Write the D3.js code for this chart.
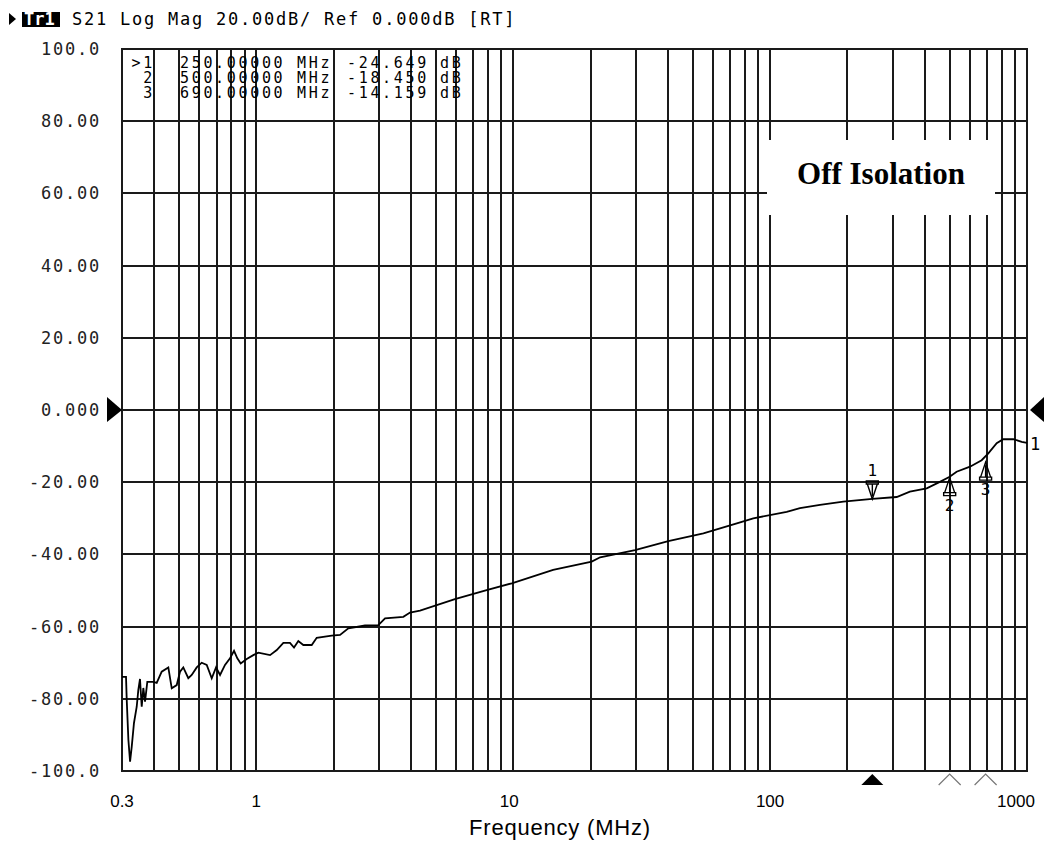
<!DOCTYPE html>
<html>
<head>
<meta charset="utf-8">
<script src="https://cdn.jsdelivr.net/npm/d3@7"></script>
<style>
  body { margin: 0; background: #fff; }
  svg { display: block; }
  .mono { font-family: "DejaVu Sans Mono", monospace; white-space: pre; }
</style>
</head>
<body>
<div id="chart"></div>
<script>
// trace: frequency (MHz) and S21 (dB)
const freqMHz = [0.300, 0.311, 0.313, 0.3177, 0.3225, 0.3273, 0.334, 0.3423, 0.3472, 0.3525,
  0.358, 0.3632, 0.3688, 0.3764, 0.3972, 0.4095, 0.4282, 0.4544, 0.4685, 0.4899,
  0.5047, 0.5197, 0.5435, 0.5604, 0.5861, 0.613, 0.6411, 0.6705, 0.6969, 0.7224,
  0.7553, 0.79, 0.8189, 0.8434, 0.8694, 0.9176, 0.9734, 1.018, 1.131, 1.201,
  1.274, 1.352, 1.402, 1.457, 1.524, 1.643, 1.718, 1.966, 2.118, 2.281,
  2.649, 2.985, 3.17, 3.735, 3.965, 4.337, 5.93, 7.88, 9.87, 14.3,
  20.21, 21.8, 29.79, 40.15, 55.0, 74.2, 86.0, 116, 130.7, 156.4,
  192.7, 250, 311, 350, 407, 458, 500, 532, 600, 666,
  707, 762, 808, 885, 954, 1000];
const s21dB = [-73.9, -73.9, -80.3, -91.4, -97.4, -93.3, -86.7, -82.2, -77.6, -74.5,
  -82.2, -77.0, -80.8, -75.3, -75.3, -75.6, -72.5, -71.3, -77.1, -76.2,
  -72.5, -71.3, -74.3, -73.4, -71.3, -70.0, -70.6, -74.3, -71.3, -73.4,
  -70.6, -68.8, -66.7, -68.8, -70.2, -69.0, -67.9, -67.2, -67.9, -66.5,
  -64.5, -64.5, -65.8, -64.0, -65.1, -65.1, -63.1, -62.5, -62.3, -60.5,
  -59.7, -59.6, -57.7, -57.3, -56.1, -55.6, -52.4, -49.9, -48.0, -44.3,
  -42.0, -40.8, -38.8, -36.3, -34.2, -31.4, -30.0, -28.2, -27.2, -26.3,
  -25.4, -24.6, -24.1, -22.6, -21.7, -19.9, -18.5, -17.1, -15.7, -13.9,
  -12.0, -9.2, -8.1, -8.1, -8.8, -9.1];

// markers
const markerNames = ["1", "2", "3"];
const markerFreq = [250, 500, 690];
const markerDB = [-24.649, -18.450, -14.159];
const markerFreqText = ["250.00000", "500.00000", "690.00000"];
const markerDBText = ["-24.649", "-18.450", "-14.159"];

// axes
const yTicks = [100, 80, 60, 40, 20, 0, -20, -40, -60, -80, -100];
const yTickLabels = ["100.0", "80.00", "60.00", "40.00", "20.00", "0.000",
  "-20.00", "-40.00", "-60.00", "-80.00", "-100.0"];
const xTickVals = [0.3, 1, 10, 100, 1000];
const xTickLabels = ["0.3", "1", "10", "100", "1000"];

const headerText = "S21 Log Mag 20.00dB/ Ref 0.000dB [RT]";
const titleText = "Off Isolation";
const xTitle = "Frequency (MHz)";

const width = 1050, height = 841;

const svg = d3.select("#chart").append("svg")
  .attr("width", width)
  .attr("height", height);

const x = d3.scaleLog().domain([0.3, 1000]).range([122, 1027]);
const y = d3.scaleLinear().domain([-100, 100]).range([771, 49]);

const x0 = x.range()[0], x1 = x.range()[1];
const yTop = y(100), yBot = y(-100);

// vertical grid, 1..9 per decade
const grid = svg.append("g")
  .attr("stroke", "#1a1a1a")
  .attr("stroke-width", 2)
  .attr("shape-rendering", "crispEdges");
grid.selectAll("line.v")
  .data(x.ticks().filter(d => d > 0.3 && d < 1000))
  .join("line")
    .attr("class", "v")
    .attr("x1", d => Math.round(x(d))).attr("x2", d => Math.round(x(d)))
    .attr("y1", yTop).attr("y2", yBot);
grid.selectAll("line.h")
  .data(yTicks.filter(d => d > -100 && d < 100))
  .join("line")
    .attr("class", "h")
    .attr("x1", x0).attr("x2", x1)
    .attr("y1", d => Math.round(y(d))).attr("y2", d => Math.round(y(d)));

// frame
svg.append("rect")
  .attr("x", x0).attr("y", yTop)
  .attr("width", x1 - x0).attr("height", yBot - yTop)
  .attr("fill", "none")
  .attr("stroke", "#1a1a1a")
  .attr("stroke-width", 2)
  .attr("shape-rendering", "crispEdges");

// label box
svg.append("rect")
  .attr("x", 767).attr("y", 140)
  .attr("width", 228).attr("height", 75)
  .attr("fill", "#fff");
svg.append("text")
  .attr("x", 881).attr("y", 184)
  .attr("text-anchor", "middle")
  .style("font-family", "'Liberation Serif', 'Times New Roman', serif")
  .style("font-weight", "bold")
  .style("font-size", "31px")
  .text(titleText);

// header
svg.append("path").attr("d", "M9,13 L16,19 L9,25 Z").attr("fill", "#000");
svg.append("rect").attr("x", 22).attr("y", 12).attr("width", 38).attr("height", 15).attr("fill", "#000");
svg.append("text").attr("class", "mono")
  .attr("x", 24).attr("y", 25)
  .attr("fill", "#fff")
  .style("font-size", "17px").style("font-weight", "bold")
  .text("Tr1");
svg.append("text").attr("class", "mono")
  .attr("x", 72).attr("y", 25)
  .style("font-size", "17px").style("letter-spacing", "1.77px")
  .text(headerText);

// y labels
svg.append("g").selectAll("text")
  .data(yTicks)
  .join("text")
    .attr("class", "mono")
    .attr("x", 101)
    .attr("y", d => y(d) + 6)
    .attr("text-anchor", "end")
    .attr("fill", "#222")
    .style("font-size", "17px").style("letter-spacing", "1.77px")
    .text((d, i) => yTickLabels[i]);

// reference level arrows
svg.append("path")
  .attr("d", `M${x0 - 15},${y(0) - 13} L${x0},${y(0)} L${x0 - 15},${y(0) + 12} Z`)
  .attr("fill", "#000");
svg.append("path")
  .attr("d", `M${x1 + 17},${y(0) - 13} L${x1 + 3},${y(0)} L${x1 + 17},${y(0) + 12} Z`)
  .attr("fill", "#000");

// marker table
const table = svg.append("g")
  .style("font-size", "15px").style("letter-spacing", "2.67px");
markerNames.forEach((m, i) => {
  const ty = 68 + i * 15;
  table.append("text").attr("class", "mono").attr("x", 155).attr("y", ty)
    .attr("text-anchor", "end").text((i === 0 ? ">" : "") + m);
  table.append("text").attr("class", "mono").attr("x", 180).attr("y", ty).text(markerFreqText[i]);
  table.append("text").attr("class", "mono").attr("x", 297).attr("y", ty).text("MHz");
  table.append("text").attr("class", "mono").attr("x", 347).attr("y", ty).text(markerDBText[i]);
  table.append("text").attr("class", "mono").attr("x", 440).attr("y", ty).text("dB");
});

// trace
const pts = freqMHz.map((f, i) => [f, s21dB[i]]);
svg.append("path")
  .datum(pts)
  .attr("fill", "none")
  .attr("stroke", "#000")
  .attr("stroke-width", 1.8)
  .attr("d", d3.line().x(d => x(d[0])).y(d => y(d[1])));

// channel label at trace end
svg.append("text").attr("class", "mono")
  .attr("x", x1 + 3).attr("y", y(s21dB[s21dB.length - 1]) + 7)
  .style("font-size", "17px")
  .text("1");

// markers on the trace
const mk = svg.append("g").attr("fill", "none").attr("stroke", "#000").attr("stroke-width", 1.4);
markerNames.forEach((m, i) => {
  const mx = x(markerFreq[i]), my = y(markerDB[i]);
  if (i === 0) {
    // active marker: points down onto the trace from above
    mk.append("path").attr("d", `M${mx - 6},${my - 18} L${mx + 6},${my - 18} L${mx + 6},${my - 15} L${mx - 6},${my - 15} Z`);
    mk.append("path").attr("d", `M${mx - 5},${my - 15} L${mx},${my} L${mx + 5},${my - 15}`);
    mk.append("line").attr("x1", mx).attr("x2", mx).attr("y1", my - 15).attr("y2", my - 3);
    svg.append("text").attr("class", "mono")
      .attr("x", mx).attr("y", my - 23).attr("text-anchor", "middle")
      .style("font-size", "16px").text(m);
  } else {
    mk.append("path").attr("d", `M${mx - 5},${my + 16} L${mx},${my + 1} L${mx + 5},${my + 16}`);
    mk.append("path").attr("d", `M${mx - 6},${my + 16} L${mx + 6},${my + 16} L${mx + 6},${my + 19} L${mx - 6},${my + 19} Z`);
    mk.append("line").attr("x1", mx).attr("x2", mx).attr("y1", my + 4).attr("y2", my + 16);
    svg.append("text").attr("class", "mono")
      .attr("x", mx).attr("y", my + 34).attr("text-anchor", "middle")
      .style("font-size", "16px").text(m);
  }
});

// marker position indicators under the grid
markerFreq.forEach((f, i) => {
  const mx = x(f);
  if (i === 0) {
    svg.append("path")
      .attr("d", `M${mx - 11},${yBot + 14} L${mx},${yBot + 3} L${mx + 11},${yBot + 14} Z`)
      .attr("fill", "#000");
  } else {
    svg.append("path")
      .attr("d", `M${mx - 11},${yBot + 14} L${mx},${yBot + 3} L${mx + 11},${yBot + 14}`)
      .attr("fill", "none").attr("stroke", "#777").attr("stroke-width", 1.2);
  }
});

// x tick labels
svg.append("g").selectAll("text")
  .data(xTickVals)
  .join("text")
    .attr("x", d => x(d) - (d === 1000 ? 11 : d === 10 ? 4 : 0))
    .attr("y", 807)
    .attr("text-anchor", "middle")
    .style("font-family", "'Liberation Sans', Arial, sans-serif")
    .style("font-size", "17px")
    .text((d, i) => xTickLabels[i]);

svg.append("text")
  .attr("x", 560).attr("y", 835)
  .attr("text-anchor", "middle")
  .style("font-family", "'Liberation Sans', Arial, sans-serif")
  .style("font-size", "22px")
  .style("letter-spacing", "0.8px")
  .text(xTitle);
</script>
</body>
</html>
